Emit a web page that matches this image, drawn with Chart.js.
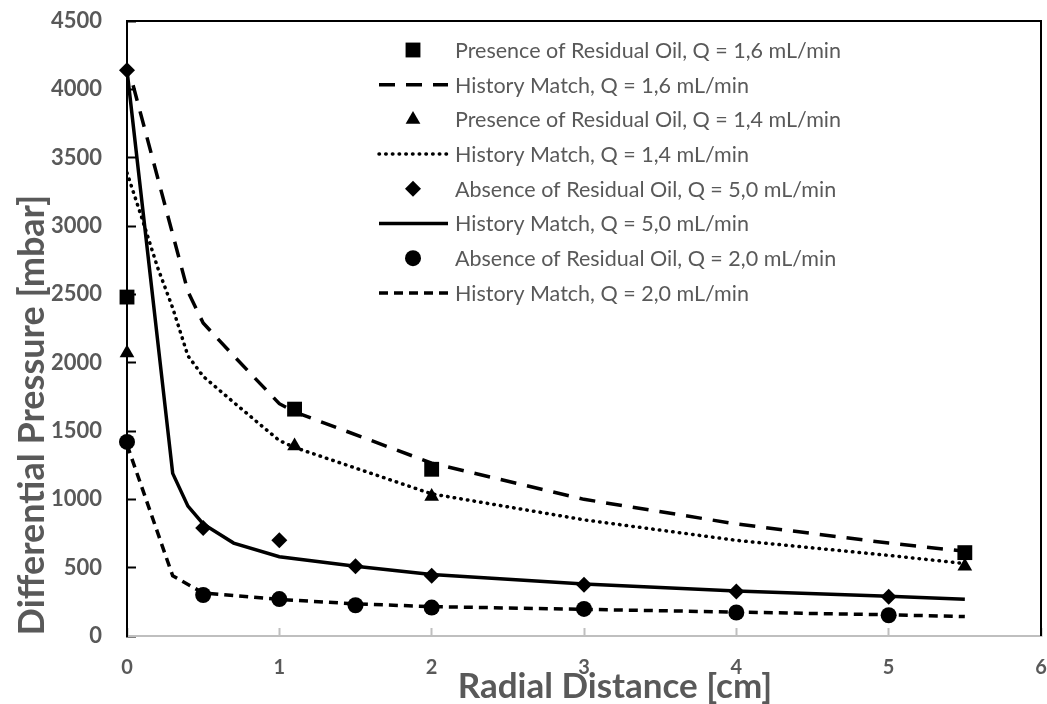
<!DOCTYPE html>
<html>
<head>
<meta charset="utf-8">
<title>Differential Pressure vs Radial Distance</title>
<script src="https://cdn.jsdelivr.net/npm/chart.js@4"></script>
<style>
  html, body { margin: 0; padding: 0; background: #fff; }
</style>
</head>
<body>
<canvas id="dpChart" width="1047" height="704"></canvas>
<script>
const sq16X = [0, 1.1, 2, 5.5];
const sq16Y = [2480, 1660, 1220, 610];
const hm16X = [0.04, 0.4, 0.5, 0.7, 1, 1.1, 2, 3, 4, 5, 5.5];
const hm16Y = [4030, 2520, 2290, 2050, 1700, 1640, 1265, 1000, 820, 680, 620];

const tri14X = [0, 1.1, 2, 5.5];
const tri14Y = [2070, 1390, 1020, 510];
const hm14X = [0, 0.1, 0.2, 0.3, 0.4, 0.5, 0.7, 1, 1.1, 2, 3, 4, 5, 5.5];
const hm14Y = [3390, 3050, 2700, 2400, 2050, 1900, 1710, 1430, 1380, 1040, 850, 700, 590, 530];

const dia50X = [0, 0.5, 1, 1.5, 2, 3, 4, 5];
const dia50Y = [4140, 790, 700, 510, 440, 375, 325, 288];
const hm50X = [0, 0.3, 0.4, 0.5, 0.7, 1, 1.5, 2, 3, 4, 5, 5.5];
const hm50Y = [4140, 1190, 950, 820, 680, 580, 510, 450, 380, 330, 290, 268];

const cir20X = [0, 0.5, 1, 1.5, 2, 3, 4, 5];
const cir20Y = [1420, 300, 270, 225, 208, 198, 172, 152];
const hm20X = [0, 0.3, 0.5, 1, 1.5, 2, 3, 4, 5, 5.5];
const hm20Y = [1400, 440, 315, 268, 235, 215, 195, 175, 155, 142];

const seriesLabels = [
  'Presence of Residual Oil, Q = 1,6 mL/min',
  'History Match, Q = 1,6 mL/min',
  'Presence of Residual Oil, Q = 1,4 mL/min',
  'History Match, Q = 1,4 mL/min',
  'Absence of Residual Oil, Q = 5,0 mL/min',
  'History Match, Q = 5,0 mL/min',
  'Absence of Residual Oil, Q = 2,0 mL/min',
  'History Match, Q = 2,0 mL/min'
];

const GREY = '#595959';
const FONT = 'Lato, "Open Sans", sans-serif';

const pts = (xs, ys) => xs.map((x, i) => ({x: x, y: ys[i]}));

function markers(label, data, style, r) {
  return {
    type: 'scatter', label, data, pointStyle: style, pointRadius: r, pointHoverRadius: r,
    backgroundColor: '#000', borderColor: '#000', borderWidth: 0, clip: false, order: 0
  };
}
function fit(label, data, dash, cap) {
  return {
    type: 'line', label, data, showLine: true, pointRadius: 0, borderColor: '#000',
    borderWidth: 3.5, borderDash: dash, borderCapStyle: cap || 'butt', tension: 0, fill: false, order: 1
  };
}

// legend drawn inside the plot, Excel style
const sideLegend = {
  id: 'sideLegend',
  afterDraw(chart) {
    const ctx = chart.ctx;
    ctx.save();
    chart.data.datasets.forEach((ds, i) => {
      const y = 50 + i * 34.7;
      ctx.fillStyle = '#000';
      ctx.strokeStyle = '#000';
      if (ds.showLine) {
        ctx.lineWidth = ds.borderWidth;
        ctx.lineCap = ds.borderCapStyle;
        ctx.setLineDash(ds.borderDash || []);
        ctx.beginPath();
        ctx.moveTo(379, y);
        ctx.lineTo(448, y);
        ctx.stroke();
        ctx.setLineDash([]);
      } else {
        Chart.helpers.drawPoint(ctx, {pointStyle: ds.pointStyle, radius: ds.pointRadius, rotation: 0, borderWidth: 0}, 413, y);
      }
      ctx.fillStyle = GREY;
      ctx.font = '21.5px ' + FONT;
      ctx.textBaseline = 'middle';
      ctx.textAlign = 'left';
      ctx.fillText(ds.label, 455, y + 1);
    });
    ctx.restore();
  }
};

// top / right frame and axis titles
const frame = {
  id: 'frame',
  afterDraw(chart) {
    const {ctx, chartArea: a} = chart;
    ctx.save();
    ctx.strokeStyle = '#000';
    ctx.lineWidth = 2;
    ctx.beginPath();
    ctx.moveTo(a.left, a.top);
    ctx.lineTo(a.right, a.top);
    ctx.lineTo(a.right, a.bottom);
    ctx.stroke();

    ctx.fillStyle = GREY;
    ctx.textBaseline = 'middle';
    ctx.textAlign = 'center';
    ctx.font = 'bold 35px ' + FONT;
    ctx.fillText('Radial Distance [cm]', 615, 687);
    ctx.font = 'bold 36px ' + FONT;
    ctx.translate(32, 415);
    ctx.rotate(-Math.PI / 2);
    ctx.fillText('Differential Pressure [mbar]', 0, 0);
    ctx.restore();
  }
};

const noPad = s => { s.paddingTop = 0; s.paddingBottom = 0; s.paddingLeft = 0; s.paddingRight = 0; };

new Chart(document.getElementById('dpChart').getContext('2d'), {
  data: {
    datasets: [
      markers(seriesLabels[0], pts(sq16X, sq16Y), 'rect', 10.5),
      fit(seriesLabels[1], pts(hm16X, hm16Y), [16, 11]),
      markers(seriesLabels[2], pts(tri14X, tri14Y), 'triangle', 8.5),
      fit(seriesLabels[3], pts(hm14X, hm14Y), [0.5, 6.2], 'round'),
      markers(seriesLabels[4], pts(dia50X, dia50Y), 'rectRot', 8),
      fit(seriesLabels[5], pts(hm50X, hm50Y), []),
      markers(seriesLabels[6], pts(cir20X, cir20Y), 'circle', 8),
      fit(seriesLabels[7], pts(hm20X, hm20Y), [9, 6])
    ]
  },
  options: {
    responsive: false,
    animation: false,
    layout: { autoPadding: false, padding: { top: 21, right: 6, left: 0, bottom: 0 } },
    plugins: { legend: { display: false }, tooltip: { enabled: false } },
    scales: {
      x: {
        type: 'linear', min: 0, max: 6,
        ticks: { stepSize: 1, color: GREY, padding: 28, maxRotation: 0,
                 callback: v => String(v),
                 font: { family: FONT, size: 20, weight: 'bold' } },
        grid: { drawOnChartArea: false, tickLength: -8, tickColor: '#bfbfbf', tickWidth: 2 },
        border: { color: '#bfbfbf', width: 2 },
        afterFit: s => { s.height = 68; noPad(s); }
      },
      y: {
        min: 0, max: 4500,
        ticks: { stepSize: 500, color: GREY, padding: 34,
                 callback: v => String(v),
                 font: { family: FONT, size: 22, weight: 'bold' } },
        grid: { drawOnChartArea: false, tickLength: -9, tickColor: '#000', tickWidth: 2 },
        border: { color: '#000', width: 2 },
        afterFit: s => { s.width = 127; noPad(s); }
      }
    }
  },
  plugins: [sideLegend, frame]
});
</script>
</body>
</html>
